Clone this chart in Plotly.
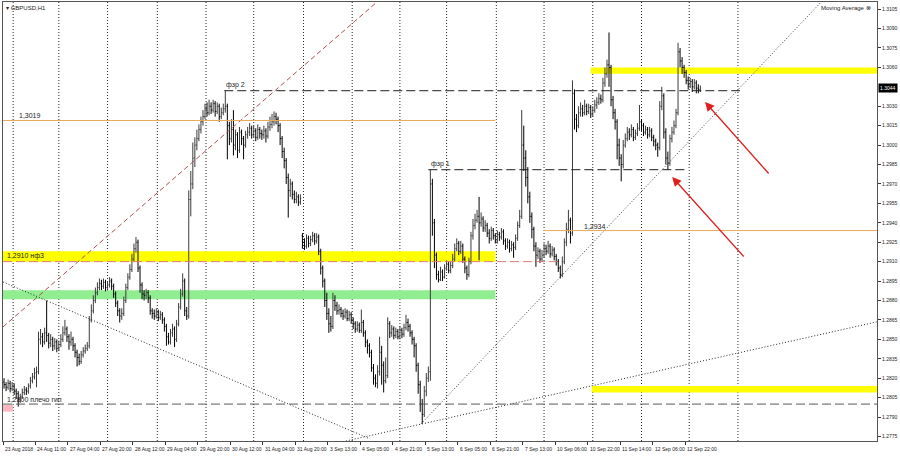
import plotly.graph_objects as go

# GBPUSD H1, prices kept as pips above BASE
BASE = 1.2700
first_open = 117
gap_opens = {147: 230}  # weekend gap, 3 Sep open

cl = [
    115, 113, 116, 112, 114, 110, 108, 104, 106, 109, 111, 110, 114, 118, 121, 124,
    125, 150, 152, 148, 155, 153, 147, 150, 145, 148, 143, 146, 150, 155, 158, 152,
    148, 150, 145, 140, 136, 133, 138, 141, 143, 145, 165, 172, 180, 186, 190, 193,
    191, 194, 190, 192, 195, 191, 185, 178, 172, 168, 170, 180, 190, 198, 204, 212,
    220, 225, 205, 192, 185, 184, 186, 182, 172, 170, 168, 171, 167, 169, 165, 160,
    152, 148, 155, 158, 150, 162, 175, 185, 195, 172, 168, 258, 270, 290, 300, 305,
    312, 318, 322, 328, 325, 330, 327, 332, 326, 330, 322, 325, 328, 330, 315, 305,
    312, 300, 308, 296, 310, 305, 300, 308, 310, 313, 308, 311, 306, 312, 309, 308,
    311, 307, 314, 316, 318, 322, 320, 315, 305, 295, 288, 275, 265, 270, 262, 258,
    260, 256, 259, 225, 222, 228, 224, 227, 230, 226, 229, 218, 205, 195, 180, 170,
    162, 160, 180, 176, 172, 173, 170, 168, 171, 166, 169, 165, 162, 158, 161, 157,
    163, 155, 148, 145, 140, 128, 120, 116, 125, 140, 130, 118, 122, 162, 155, 158,
    153, 156, 152, 157, 154, 159, 163, 160, 155, 150, 145, 130, 115, 100, 92, 110,
    120, 125, 270, 240, 215, 200, 196, 202, 198, 205, 208, 203, 207, 212, 220, 224,
    218, 222, 212, 205, 200, 210, 230, 238, 242, 245, 240, 243, 236, 238, 232, 228,
    234, 230, 226, 231, 229, 233, 226, 222, 225, 220, 223, 221, 228, 238, 245, 300,
    290, 275, 260, 245, 235, 222, 215, 218, 212, 215, 220, 218, 222, 216, 219, 214,
    210, 205, 200, 210, 225, 235, 242, 232, 340, 320, 315, 325, 328, 325, 330, 326,
    329, 324, 327, 331, 333, 336, 335, 348, 355, 362, 360, 335, 325, 318, 300, 290,
    285, 300, 305, 310, 308, 312, 306, 309, 313, 318, 315, 310, 312, 308, 311, 306,
    303, 300, 298, 330, 338, 310, 290, 286, 305, 310, 315, 325, 372, 365, 360, 356,
    350, 347, 349, 345, 348, 344, 343, 344,
]

hi = [
    120, 117, 119, 118, 117, 116, 112, 110, 108, 112, 114, 113, 116, 121, 124, 128,
    129, 156, 158, 155, 159, 180, 155, 154, 152, 151, 150, 149, 154, 160, 165, 160,
    154, 156, 152, 147, 142, 139, 141, 144, 146, 148, 168, 177, 184, 190, 194, 197,
    196, 197, 196, 195, 198, 197, 193, 187, 180, 174, 174, 183, 193, 201, 208, 216,
    224, 229, 227, 207, 194, 188, 189, 188, 184, 174, 173, 174, 173, 172, 171, 167,
    162, 155, 158, 162, 160, 165, 178, 189, 201, 197, 175, 265, 280, 302, 306, 312,
    316, 322, 327, 332, 333, 335, 333, 335, 334, 333, 332, 329, 332, 342, 332, 318,
    320, 327, 312, 310, 314, 312, 307, 311, 314, 317, 315, 315, 313, 316, 314, 312,
    315, 313, 318, 322, 324, 326, 325, 322, 317, 307, 298, 290, 278, 274, 272, 265,
    264, 262, 262, 232, 228, 231, 230, 230, 233, 232, 232, 231, 220, 207, 197, 186,
    174, 168, 186, 184, 179, 177, 175, 173, 174, 173, 172, 171, 167, 164, 164, 163,
    173, 165, 157, 150, 147, 142, 131, 123, 130, 152, 145, 133, 136, 167, 164, 161,
    160, 159, 158, 160, 159, 162, 169, 166, 162, 157, 152, 147, 132, 118, 104, 114,
    124, 129, 281, 274, 243, 217, 203, 206, 204, 208, 211, 210, 210, 216, 224, 228,
    226, 226, 224, 214, 207, 213, 233, 243, 247, 250, 260, 248, 245, 242, 240, 235,
    237, 236, 232, 234, 233, 236, 235, 228, 228, 227, 226, 225, 231, 241, 250, 327,
    315, 296, 283, 264, 248, 237, 225, 221, 220, 219, 224, 223, 226, 224, 222, 221,
    216, 212, 207, 214, 228, 240, 250, 244, 350, 343, 324, 330, 333, 331, 335, 332,
    332, 331, 330, 335, 337, 340, 339, 352, 360, 366, 387, 362, 338, 328, 320, 305,
    293, 304, 309, 314, 313, 316, 314, 312, 317, 331, 320, 317, 315, 314, 314, 313,
    308, 305, 302, 334, 345, 340, 313, 295, 308, 314, 319, 328, 379, 375, 368, 362,
    358, 353, 352, 351, 351, 350, 347, 346,
]

lo = [
    112, 110, 111, 109, 110, 107, 104, 98, 101, 104, 107, 107, 108, 112, 116, 119,
    113, 123, 146, 144, 146, 148, 143, 144, 141, 142, 140, 141, 144, 148, 153, 148,
    142, 145, 141, 136, 129, 130, 131, 136, 139, 141, 143, 163, 170, 178, 184, 188,
    188, 189, 187, 188, 190, 188, 182, 175, 168, 163, 165, 168, 178, 188, 196, 202,
    210, 217, 202, 186, 181, 180, 181, 178, 169, 166, 165, 166, 164, 165, 162, 156,
    145, 146, 146, 152, 144, 148, 160, 173, 183, 168, 165, 166, 245, 266, 283, 296,
    303, 309, 315, 320, 322, 323, 324, 325, 322, 324, 318, 320, 323, 325, 289, 300,
    302, 292, 296, 290, 294, 300, 289, 298, 305, 307, 305, 306, 303, 304, 305, 304,
    305, 302, 305, 311, 313, 315, 316, 310, 300, 290, 282, 270, 244, 260, 258, 255,
    255, 253, 254, 220, 219, 220, 221, 222, 225, 223, 224, 215, 200, 190, 175, 165,
    155, 156, 158, 172, 169, 169, 167, 165, 166, 164, 164, 162, 158, 155, 156, 155,
    155, 152, 144, 139, 136, 125, 115, 113, 112, 122, 115, 109, 116, 120, 151, 152,
    150, 151, 150, 150, 151, 152, 157, 156, 152, 146, 136, 125, 108, 94, 85, 90,
    106, 117, 118, 230, 205, 196, 194, 195, 195, 197, 203, 201, 201, 205, 210, 218,
    215, 216, 209, 201, 196, 198, 208, 227, 235, 240, 211, 237, 233, 233, 229, 224,
    226, 227, 224, 224, 226, 227, 223, 219, 220, 217, 218, 213, 219, 226, 236, 243,
    280, 268, 255, 240, 228, 218, 206, 212, 209, 210, 213, 215, 216, 213, 214, 211,
    207, 202, 197, 198, 208, 222, 232, 224, 230, 312, 310, 313, 322, 322, 323, 323,
    324, 321, 322, 325, 328, 331, 332, 333, 345, 352, 345, 330, 320, 312, 289, 284,
    272, 282, 298, 303, 304, 306, 303, 304, 307, 311, 311, 307, 308, 305, 306, 303,
    299, 296, 291, 296, 327, 305, 285, 281, 284, 302, 308, 313, 323, 360, 355, 352,
    347, 343, 344, 341, 343, 340, 340, 341,
]

time_labels = ["23 Aug 2018", "24 Aug 11:00", "27 Aug 04:00", "27 Aug 20:00", "28 Aug 12:00",
               "29 Aug 04:00", "29 Aug 20:00", "30 Aug 12:00", "31 Aug 04:00", "31 Aug 20:00",
               "3 Sep 13:00", "4 Sep 05:00", "4 Sep 21:00", "5 Sep 13:00", "6 Sep 05:00",
               "6 Sep 21:00", "7 Sep 13:00", "10 Sep 06:00", "10 Sep 22:00", "11 Sep 14:00",
               "12 Sep 06:00", "12 Sep 22:00"]
label_bars = [16 * k for k in range(len(time_labels))]
day_separators = [4.5, 27, 51, 75.5, 99.5, 123, 147.5, 171.5, 195, 218, 242.5, 266,
                  290, 314, 337.5, 361.5]

last_price = 1.3044
# the 1.3045 label sits under the current-price box, so it is not shown
price_ticks = [1.2775, 1.2790, 1.2805, 1.2820, 1.2835, 1.2850, 1.2865, 1.2880, 1.2895,
               1.2910, 1.2925, 1.2940, 1.2955, 1.2970, 1.2985, 1.3000, 1.3015, 1.3030,
               1.3060, 1.3075, 1.3090, 1.3105]

# drawn objects (bar index, price)
bands = [  # x0, x1, y0, y1, colour
    (-0.5, 242, 1.2910, 1.2918, "rgb(255,255,0)"),
    (-0.5, 242, 1.2881, 1.2888, "rgb(144,238,144)"),
    (289, 431, 1.3055, 1.3060, "rgb(255,255,0)"),
    (289.5, 431, 1.2809, 1.2814, "rgb(255,255,0)"),
    (-0.5, 4.4, 1.27942, 1.27993, "rgb(255,182,193)"),
]
levels = [  # x0, x1, price, colour, dash
    (-0.5, 242, 1.3019, "rgb(232,170,90)", "solid"),
    (265.5, 431, 1.2934, "rgb(232,170,90)", "solid"),
    (-0.5, 272.5, 1.2910, "rgb(226,120,120)", "9px,4px"),
    (-0.5, 431, 1.2800, "rgb(90,90,90)", "9px,4px"),
    (108.5, 362.5, 1.3042, "rgb(30,30,30)", "9px,4px"),
    (209, 337, 1.2981, "rgb(30,30,30)", "9px,4px"),
]
trend_lines = [  # (x0, y0), (x1, y1), colour, dash
    ((-0.5, 1.28596), (183.7, 1.31105), "rgb(175,80,80)", "5px,3px"),
    ((-0.5, 1.28943), (180.3, 1.27731), "rgb(40,40,40)", "1px,2px"),
    ((168.4, 1.27715), (430.5, 1.28637), "rgb(40,40,40)", "1px,2px"),
    ((205.4, 1.27847), (402.5, 1.31105), "rgb(60,60,60)", "1px,2px"),
]
arrows = [  # head, tail
    ((345.3, 1.30333), (377.3, 1.29769)),
    ((329.1, 1.29754), (365.0, 1.29128)),
]
texts = [  # bar, price, text
    (108.6, 1.30465, "фзр 2"),
    (209.2, 1.29855, "фзр 1"),
    (6.5, 1.30225, "1,3019"),
    (284.5, 1.29375, "1,2934"),
    (0.3, 1.29140, "1,2910 нф3"),
    (0.3, 1.28035, "1,2800 плечо гип"),
]

FONT = "Liberation Sans"
bars = list(range(len(cl)))
prev = [first_open] + cl[:-1]
op = [gap_opens.get(i, prev[i]) for i in bars]


def px(v):
    return [BASE + p / 10000 for p in v]


fig = go.Figure()
fig.add_trace(go.Ohlc(
    x=bars, open=px(op), high=px(hi), low=px(lo), close=px(cl),
    increasing=dict(line=dict(color="#3c3c3c", width=1)),
    decreasing=dict(line=dict(color="#000000", width=1)),
    tickwidth=0.4, hoverinfo="skip", showlegend=False,
))

for (x0, y0), (x1, y1), colour, dash in trend_lines:
    fig.add_trace(go.Scatter(x=[x0, x1], y=[y0, y1], mode="lines",
                             line=dict(color=colour, width=1, dash=dash),
                             hoverinfo="skip", showlegend=False))

shapes = []
for x in day_separators:
    shapes.append(dict(type="line", xref="x", yref="paper", x0=x, x1=x, y0=0, y1=1,
                       line=dict(color="rgb(40,40,40)", width=1, dash="1px,2px"), layer="below"))
for x0, x1, y0, y1, colour in bands:
    shapes.append(dict(type="rect", xref="x", yref="y", x0=x0, x1=x1, y0=y0, y1=y1,
                       fillcolor=colour, line=dict(width=0), layer="below"))
for x0, x1, y, colour, dash in levels:
    shapes.append(dict(type="line", xref="x", yref="y", x0=x0, x1=x1, y0=y, y1=y,
                       line=dict(color=colour, width=1, dash=dash)))

annotations = []
for b, t in zip(label_bars, time_labels):
    annotations.append(dict(x=b - 0.5, y=0, xref="x", yref="paper", text=t, showarrow=False,
                            xanchor="left", yanchor="top", yshift=-3,
                            font=dict(family=FONT, size=5, color="#222")))
for b, p, t in texts:
    annotations.append(dict(x=b, y=p, xref="x", yref="y", text=t, showarrow=False,
                            xanchor="left", yanchor="middle",
                            font=dict(family=FONT, size=7, color="#222")))
for (hx, hy), (tx, ty) in arrows:
    annotations.append(dict(x=hx, y=hy, ax=tx, ay=ty, xref="x", yref="y", axref="x", ayref="y",
                            text="", showarrow=True, arrowhead=2, arrowsize=1.4, arrowwidth=1.3,
                            arrowcolor="rgb(225,30,30)"))
annotations.append(dict(x=0, y=1, xref="paper", yref="paper", text="▾ GBPUSD,H1", showarrow=False,
                        xanchor="left", yanchor="top", xshift=1, yshift=-1,
                        font=dict(family=FONT, size=6, color="#222")))
annotations.append(dict(x=1, y=1, xref="paper", yref="paper", text="Moving Average ⊗",
                        showarrow=False, xanchor="right", yanchor="top", xshift=-4, yshift=-1,
                        font=dict(family=FONT, size=6, color="#222")))
annotations.append(dict(x=1, y=last_price, xref="paper", yref="y", text=f"{last_price:.4f}",
                        showarrow=False, xanchor="left", yanchor="middle", xshift=1,
                        bgcolor="black", borderpad=1,
                        font=dict(family=FONT, size=5, color="white")))

fig.update_layout(
    width=900, height=456,
    margin=dict(l=3, r=23, t=2, b=15),
    paper_bgcolor="white", plot_bgcolor="white",
    shapes=shapes, annotations=annotations,
    showlegend=False,
    xaxis=dict(range=[-0.5, 430], showgrid=False, zeroline=False, rangeslider=dict(visible=False),
               tickvals=[b - 0.5 for b in label_bars], showticklabels=False,
               ticks="outside", ticklen=3, tickcolor="#333",
               showline=True, linecolor="#555", linewidth=1, mirror=True),
    yaxis=dict(range=[1.27715, 1.31105], side="right", showgrid=False, zeroline=False,
               tickvals=price_ticks, ticktext=[f"{v:.4f}" for v in price_ticks],
               ticks="outside", ticklen=3, tickcolor="#333",
               tickfont=dict(family=FONT, size=5, color="#222"),
               showline=True, linecolor="#555", linewidth=1, mirror=True),
)

fig.write_html("out.html", config={"displayModeBar": False},
               post_script="document.body.style.margin='0';")
